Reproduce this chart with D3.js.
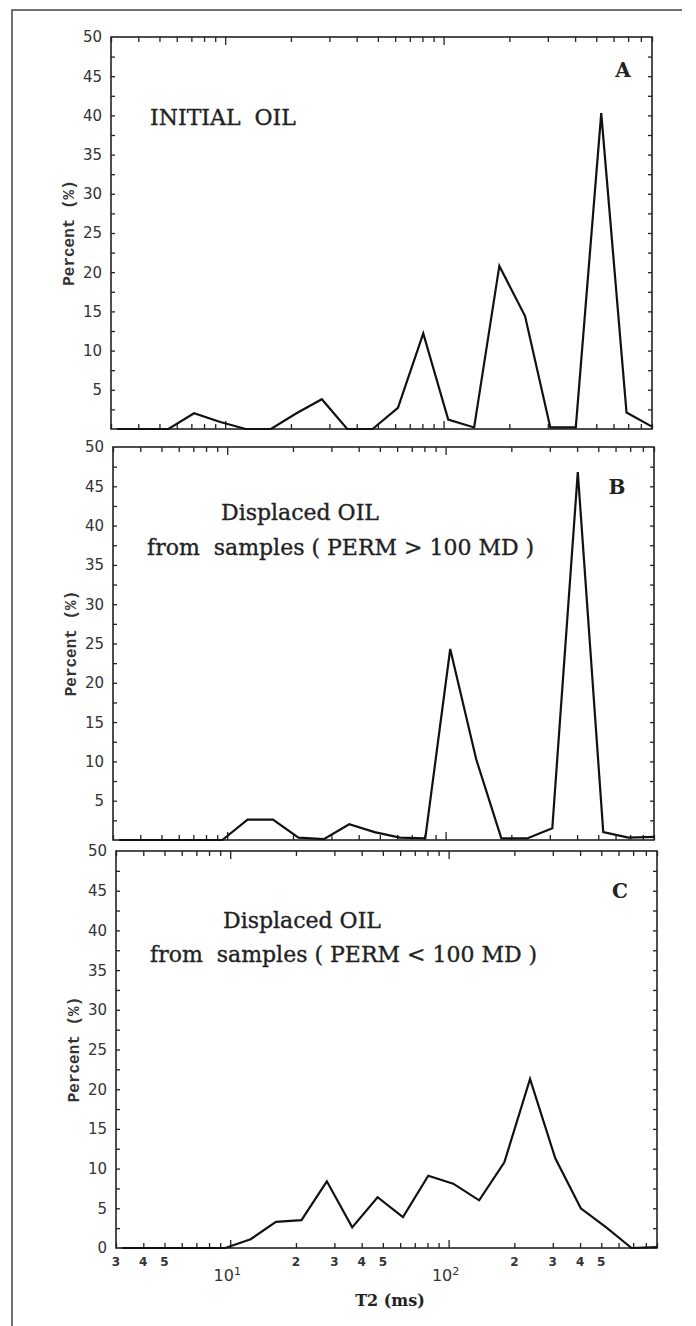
<!DOCTYPE html>
<html>
<head>
<meta charset="utf-8">
<script src="https://cdn.jsdelivr.net/npm/d3@7"></script>
<style>
  body { margin: 0; background: #fff; }
  svg { display: block; }
  .ylab { font-family: "DejaVu Sans", sans-serif; font-size: 15px; fill: #333; }
  .note { font-family: "DejaVu Serif", serif; font-size: 22px; fill: #222; stroke: #222; stroke-width: 0.35px; white-space: pre; }
  .letter { font-family: "DejaVu Serif", serif; font-size: 20px; font-weight: bold; fill: #222; }
  .ytitle { font-family: "Liberation Mono", monospace; font-size: 16px; font-weight: bold; fill: #333; }
  .xlab { font-family: "DejaVu Sans", sans-serif; font-size: 12px; font-weight: bold; fill: #333; }
  .dec { font-family: "DejaVu Sans", sans-serif; font-size: 16px; fill: #333; }
  .xtitle { font-family: "DejaVu Serif", serif; font-size: 16px; font-weight: bold; fill: #222; }
</style>
</head>
<body>
<svg width="696" height="1326"></svg>
<script>
// T2 bins (ms), shared by all three curves
var t2 = [3.2, 4.2, 5.5, 7.2, 9.5, 12.4, 16.2, 21.2, 27.7, 36.2, 47.3, 61.8,
          80.7, 105, 138, 180, 236, 308, 403, 527, 688, 900];

// percent per bin
var initialOil = [0, 0, 0, 2.0, 0.9, 0, 0, 2.0, 3.8, 0, 0, 2.7,
                  12.2, 1.2, 0.2, 20.8, 14.4, 0.2, 0.2, 40.3, 2.1, 0.3];
var displacedHigh = [0, 0, 0, 0, 0, 2.6, 2.6, 0.3, 0.1, 2.0, 1.0, 0.3,
                     0.2, 24.3, 10.3, 0.2, 0.2, 1.5, 46.8, 1.0, 0.3, 0.4];
var displacedLow = [0, 0, 0, 0, 0, 1.1, 3.3, 3.5, 8.4, 2.6, 6.4, 3.9,
                    9.1, 8.1, 6.0, 10.8, 21.3, 11.3, 5.0, 2.6, 0, 0.1];

var yTicks = [5, 10, 15, 20, 25, 30, 35, 40, 45, 50];
var xLabels = [3, 4, 5, 20, 30, 40, 50, 200, 300, 400, 500];
var decades = [10, 100];

var svg = d3.select("svg");

// scanned page frame
svg.append("path")
    .attr("d", "M12,1326 V10 H682")
    .attr("fill", "none")
    .attr("stroke", "#444")
    .attr("stroke-width", 1.5);

var panels = [
  { letter: "A", values: initialOil, left: 111, right: 652, top: 37, bottom: 429,
    lines: [{ text: "INITIAL  OIL", x: 150, dy: 88 }], letterX: 623, letterDy: 40, zero: false },
  { letter: "B", values: displacedHigh, left: 113, right: 654, top: 447, bottom: 840,
    lines: [{ text: "Displaced OIL", x: 221, dy: 73 },
            { text: "from  samples ( PERM > 100 MD )", x: 147, dy: 108 }],
    letterX: 617, letterDy: 47, zero: false },
  { letter: "C", values: displacedLow, left: 116, right: 657, top: 851, bottom: 1248,
    lines: [{ text: "Displaced OIL", x: 223, dy: 77 },
            { text: "from  samples ( PERM < 100 MD )", x: 150, dy: 111 }],
    letterX: 620, letterDy: 47, zero: true }
];

// every minor tick position on the log axis
var minorTicks = [];
[1, 10, 100].forEach(function(d) {
  for (var k = 1; k < 10; k++) {
    var v = d * k;
    if (v >= 3 && v <= 900 && v !== 10 && v !== 100) minorTicks.push(v);
  }
});
var yMinor = d3.range(2.5, 50, 2.5);

panels.forEach(function(p, i) {
  var x = d3.scaleLog().domain([3, 900]).range([p.left, p.right]);
  var y = d3.scaleLinear().domain([0, 50]).range([p.bottom, p.top]);

  var g = svg.append("g");

  // inward ticks on all four sides
  function addAxis(axis, tx, ty) {
    var a = g.append("g")
        .attr("transform", "translate(" + tx + "," + ty + ")")
        .call(axis);
    a.select(".domain").remove();
    a.selectAll("line").attr("stroke", "#222").attr("stroke-width", 1.3);
    a.selectAll("text").remove();
  }
  addAxis(d3.axisBottom(x).tickValues(minorTicks).tickSize(-5), 0, p.bottom);
  addAxis(d3.axisBottom(x).tickValues(decades).tickSize(-8), 0, p.bottom);
  addAxis(d3.axisTop(x).tickValues(minorTicks).tickSize(-5), 0, p.top);
  addAxis(d3.axisTop(x).tickValues(decades).tickSize(-8), 0, p.top);
  addAxis(d3.axisLeft(y).tickValues(yMinor).tickSize(-4), p.left, 0);
  addAxis(d3.axisRight(y).tickValues(yMinor).tickSize(-4), p.right, 0);

  g.append("rect")
      .attr("x", p.left).attr("y", p.top)
      .attr("width", p.right - p.left).attr("height", p.bottom - p.top)
      .attr("fill", "none")
      .attr("stroke", "#222")
      .attr("stroke-width", 1.6);

  // y labels
  var labs = p.zero ? [0].concat(yTicks) : yTicks;
  g.selectAll(".ylab")
    .data(labs)
    .enter().append("text")
      .attr("class", "ylab")
      .attr("x", p.left - 9)
      .attr("y", function(d) { return y(d); })
      .attr("dy", "0.36em")
      .attr("text-anchor", "end")
      .text(function(d) { return d; });

  g.append("text")
      .attr("class", "ytitle")
      .attr("transform", "translate(" + (p.left - 37) + "," + ((p.top + p.bottom) / 2) + ") rotate(-90)")
      .attr("text-anchor", "middle")
      .text("Percent (%)");

  // curve
  var line = d3.line()
      .x(function(d, j) { return x(t2[j]); })
      .y(function(d) { return y(d); });

  g.append("path")
      .datum(p.values)
      .attr("fill", "none")
      .attr("stroke", "#111")
      .attr("stroke-width", 2.2)
      .attr("stroke-linejoin", "miter")
      .attr("d", line);

  p.lines.forEach(function(l) {
    g.append("text")
        .attr("class", "note")
        .attr("x", l.x)
        .attr("y", p.top + l.dy)
        .text(l.text);
  });

  g.append("text")
      .attr("class", "letter")
      .attr("x", p.letterX)
      .attr("y", p.top + p.letterDy)
      .attr("text-anchor", "middle")
      .text(p.letter);

  // x labels only on the bottom panel
  if (i === panels.length - 1) {
    g.selectAll(".xlab")
      .data(xLabels)
      .enter().append("text")
        .attr("class", "xlab")
        .attr("x", function(d) { return x(d); })
        .attr("y", p.bottom + 18)
        .attr("text-anchor", "middle")
        .text(function(d) { return String(d).charAt(0); });

    decades.forEach(function(d, k) {
      var t = g.append("text")
          .attr("class", "dec")
          .attr("x", x(d) - 3)
          .attr("y", p.bottom + 33)
          .attr("text-anchor", "middle");
      t.append("tspan").text("10");
      t.append("tspan")
          .attr("dy", -6)
          .attr("font-size", "11px")
          .text(k + 1);
    });

    g.append("text")
        .attr("class", "xtitle")
        .attr("x", 390)
        .attr("y", p.bottom + 58)
        .attr("text-anchor", "middle")
        .text("T2 (ms)");
  }
});
</script>
</body>
</html>
